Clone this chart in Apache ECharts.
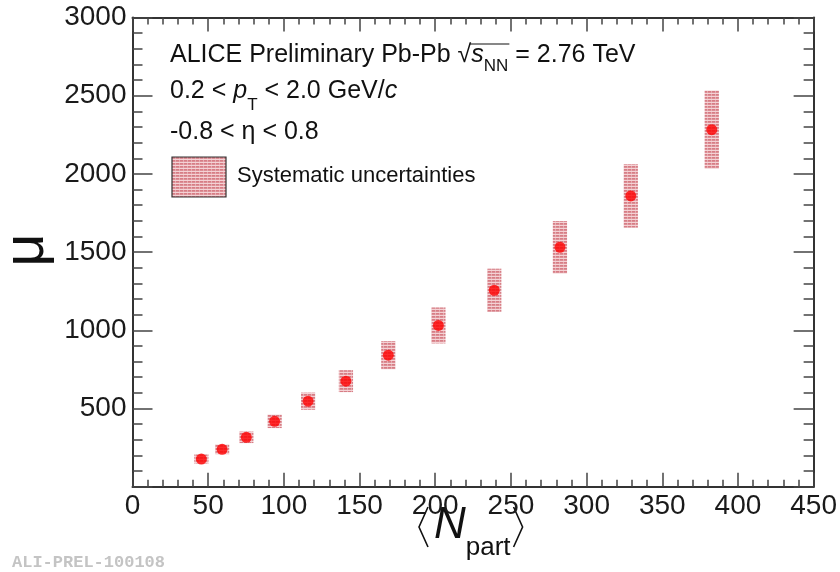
<!DOCTYPE html>
<html>
<head>
<meta charset="utf-8">
<script src="https://cdn.jsdelivr.net/npm/echarts@6/dist/echarts.min.js"></script>
<style>
html,body{margin:0;padding:0;background:#fff;}
#chart{width:840px;height:572px;}
</style>
</head>
<body>
<div id="chart"></div>
<script>
// ---- data ----
const npart = [45.5, 59.2, 75.2, 93.9, 116.0, 141.0, 169.0, 202.1, 239.0, 282.4, 329.2, 382.7];
const mu    = [177, 239, 316, 418, 547, 675, 841, 1031, 1256, 1531, 1859, 2283];
const sysErr = [29, 31, 37, 43, 55, 70, 90, 115, 138, 168, 203, 250];
const sysHalfWidth = 4.7;   // half width of systematic boxes in <Npart> units
const xTicks = {min: 0, max: 450, interval: 50};
const yTicks = {min: 0, max: 3000, interval: 500};

const FONT = '"Liberation Sans", Arial, Helvetica, sans-serif';

// striped pattern for systematic boxes
const pc = document.createElement('canvas');
pc.width = 4; pc.height = 3;
const pctx = pc.getContext('2d');
pctx.fillStyle = '#f4d2d5'; pctx.fillRect(0, 0, 4, 1);
pctx.fillStyle = '#d77d85'; pctx.fillRect(0, 1, 4, 1);
pctx.fillStyle = '#dc8f96'; pctx.fillRect(0, 2, 4, 1);
pctx.fillStyle = '#e7adb2'; pctx.fillRect(3, 1, 1, 2);
const pattern = {image: pc, repeat: 'repeat'};

// text layout helpers
const mctx = document.createElement('canvas').getContext('2d');
function fontStr(s){ return (s.it ? 'italic ' : '') + s.size + 'px ' + FONT; }
function midOffset(size, font){
  mctx.font = font;
  const m = mctx.measureText('Hg');
  if (m.fontBoundingBoxAscent !== undefined) return (m.fontBoundingBoxAscent - m.fontBoundingBoxDescent) / 2;
  return 0.3465 * size;
}
function layoutLine(x0, base, segs, color){
  let x = x0; const els = []; const pos = [];
  segs.forEach(s => {
    const f = fontStr(s);
    mctx.font = f;
    const wdt = mctx.measureText(s.t).width;
    const yb = base + (s.dy || 0);
    els.push({type: 'text', x: x, y: yb - midOffset(s.size, f), silent: true,
      style: {text: s.t, font: f, fill: color || '#111', align: 'left', verticalAlign: 'middle'}});
    pos.push([x, x + wdt]);
    x += wdt;
  });
  return {els, pos, end: x};
}

const graphics = [];
// line 1
const L1 = layoutLine(170, 64.5, [
  {t: 'ALICE Preliminary Pb-Pb ', size: 25},
  {t: '\u221A', size: 25},
  {t: 's', size: 25, it: true},
  {t: 'NN', size: 17, dy: 7},
  {t: ' = 2.76 TeV', size: 25}
]);
graphics.push(...L1.els);
graphics.push({type: 'line', silent: true,
  shape: {x1: L1.pos[1][1] - 1.5, y1: 44, x2: L1.pos[3][1] + 1, y2: 44},
  style: {stroke: '#111', lineWidth: 1.2}});
// line 2
const L2 = layoutLine(170, 100.5, [
  {t: '0.2 < ', size: 25},
  {t: 'p', size: 25, it: true},
  {t: 'T', size: 17, dy: 10},
  {t: ' < 2.0 GeV/', size: 25},
  {t: 'c', size: 25, it: true}
]);
graphics.push(...L2.els);
// line 3
const L3 = layoutLine(170, 141.5, [{t: '-0.8 < \u03B7 < 0.8', size: 25}]);
graphics.push(...L3.els);
// legend
graphics.push({type: 'rect', silent: true, shape: {x: 172, y: 157, width: 54, height: 40},
  style: {fill: pattern, stroke: '#333', lineWidth: 1.2}});
const LL = layoutLine(237, 183.5, [{t: 'Systematic uncertainties', size: 22}]);
graphics.push(...LL.els);

// x-axis title <N_part>
const XT = layoutLine(434, 541, [
  {t: 'N', size: 44, it: true},
  {t: 'part', size: 26, dy: 16}
]);
graphics.push(...XT.els);
graphics.push({type: 'polyline', silent: true,
  shape: {points: [[428, 507], [419, 527], [428, 547]]},
  style: {stroke: '#111', lineWidth: 1.6, fill: null}});
const rb = XT.end + 3;
graphics.push({type: 'polyline', silent: true,
  shape: {points: [[rb, 507], [rb + 9, 527], [rb, 547]]},
  style: {stroke: '#111', lineWidth: 1.6, fill: null}});

// y-axis title mu
graphics.push({type: 'text', x: 27, y: 250, rotation: Math.PI / 2, silent: true,
  style: {text: '\u03BC', font: '58px ' + FONT, fill: '#111', align: 'center', verticalAlign: 'middle'}});

// footer
graphics.push({type: 'text', x: 12, y: 563, silent: true,
  style: {text: 'ALI-PREL-100108', font: 'bold 17px "Liberation Mono", "DejaVu Sans Mono", monospace',
    fill: '#c4c4c4', align: 'left', verticalAlign: 'middle'}});

const axisLineStyle = {color: '#333', width: 2};
const tickStyle = {color: '#444', width: 1.5};

function xAxisCfg(pos, showLabel){
  return {type: 'value', position: pos, min: xTicks.min, max: xTicks.max, interval: xTicks.interval,
    axisLine: {show: true, onZero: false, lineStyle: axisLineStyle},
    axisTick: {show: true, inside: true, length: 14, lineStyle: tickStyle},
    minorTick: {show: true, splitNumber: 5, length: 7, lineStyle: tickStyle},
    splitLine: {show: false}, minorSplitLine: {show: false},
    axisLabel: {show: showLabel, fontSize: 28, fontFamily: FONT, color: '#1a1a1a', margin: 6,
      showMinLabel: true, showMaxLabel: true}};
}
function yAxisCfg(pos, showLabel){
  return {type: 'value', position: pos, min: yTicks.min, max: yTicks.max, interval: yTicks.interval,
    axisLine: {show: true, onZero: false, lineStyle: axisLineStyle},
    axisTick: {show: true, inside: true, length: 20, lineStyle: tickStyle},
    minorTick: {show: true, splitNumber: 5, length: 10, lineStyle: tickStyle},
    splitLine: {show: false}, minorSplitLine: {show: false},
    axisLabel: {show: showLabel, fontSize: 28, fontFamily: FONT, color: '#1a1a1a', margin: 6,
      formatter: v => v === 0 ? '' : String(v)}};
}

const chart = echarts.init(document.getElementById('chart'), null, {renderer: 'canvas'});
chart.setOption({
  animation: false,
  backgroundColor: '#ffffff',
  grid: {left: 132.5, right: 25.7, top: 17.5, bottom: 85.3, containLabel: false},
  xAxis: [xAxisCfg('bottom', true), xAxisCfg('top', false)],
  yAxis: [yAxisCfg('left', true), yAxisCfg('right', false)],
  graphic: graphics,
  series: [
    {
      type: 'custom', xAxisIndex: 0, yAxisIndex: 0, z: 2,
      data: npart.map((x, i) => [x, mu[i], sysErr[i]]),
      encode: {x: 0, y: 1},
      renderItem: function(params, api){
        const x = api.value(0), y = api.value(1), e = api.value(2);
        const p1 = api.coord([x - sysHalfWidth, y + e]);
        const p2 = api.coord([x + sysHalfWidth, y - e]);
        return {type: 'rect', shape: {x: p1[0], y: p1[1], width: p2[0] - p1[0], height: p2[1] - p1[1]},
          style: {fill: pattern}};
      }
    },
    {
      type: 'scatter', xAxisIndex: 0, yAxisIndex: 0, z: 3,
      data: npart.map((x, i) => [x, mu[i]]),
      symbol: 'circle', symbolSize: 11,
      itemStyle: {color: '#ff0000'}
    }
  ]
});
</script>
</body>
</html>
